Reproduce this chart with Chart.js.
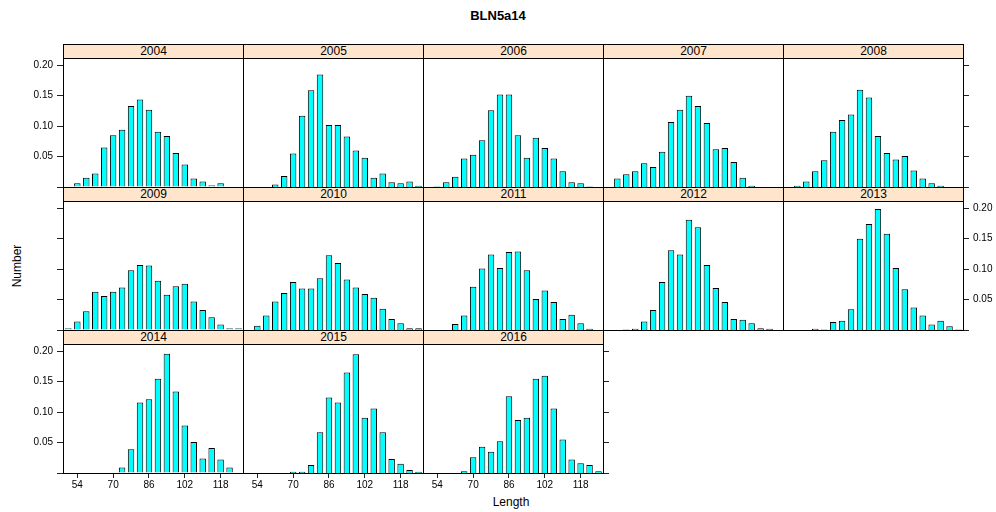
<!DOCTYPE html>
<html><head><meta charset="utf-8">
<script src="https://cdn.jsdelivr.net/npm/chart.js@4"></script>
<style>
html,body{margin:0;padding:0;background:#fff;}
#wrap{position:relative;width:996px;height:512px;overflow:hidden;font-family:'Liberation Sans',Arial,Helvetica,sans-serif;color:#000;}
#wrap canvas{position:absolute;}
.strip{position:absolute;box-sizing:border-box;border:1px solid #000;background:#ffe5cc;font-size:12px;line-height:13px;text-align:center;}
.lbl{position:absolute;white-space:nowrap;}
</style>
</head><body>
<div id="wrap">
  <div class="lbl" id="title" style="left:0;width:996px;top:8px;text-align:center;font-weight:bold;font-size:13px;">BLN5a14</div>
  <div class="lbl" id="ylab" style="left:17px;top:266px;font-size:12px;transform:translate(-50%,-50%) rotate(-90deg);">Number</div>
  <div class="lbl" id="xlab" style="left:511px;top:502px;font-size:12px;transform:translate(-50%,-50%);">Length</div>
</div>
<script>
// ---- data ----
const lengths = [50,54,58,62,66,70,74,78,82,86,90,94,98,102,106,110,114,118,122,126];
const years = ['2004','2005','2006','2007','2008','2009','2010','2011','2012','2013','2014','2015','2016'];
const v2004 = [0.001,0.006,0.015,0.022,0.065,0.085,0.094,0.133,0.144,0.127,0.091,0.084,0.056,0.037,0.014,0.009,0.003,0.006,0,0];
const v2005 = [0,0,0,0.004,0.018,0.055,0.117,0.159,0.185,0.102,0.102,0.083,0.060,0.048,0.015,0.022,0.008,0.006,0.009,0.002];
const v2006 = [0,0.001,0.008,0.017,0.047,0.053,0.077,0.126,0.152,0.152,0.085,0.048,0.081,0.064,0.047,0.026,0.008,0.006,0.001,0];
const v2007 = [0,0.014,0.021,0.026,0.039,0.033,0.058,0.107,0.127,0.150,0.133,0.105,0.062,0.064,0.041,0.015,0.002,0,0,0];
const v2008 = [0,0.002,0.009,0.026,0.044,0.091,0.110,0.119,0.160,0.147,0.084,0.056,0.045,0.051,0.027,0.014,0.006,0.002,0,0];
const v2009 = [0.003,0.014,0.031,0.063,0.056,0.063,0.070,0.098,0.107,0.106,0.081,0.058,0.072,0.076,0.047,0.033,0.021,0.009,0.003,0.003];
const v2010 = [0,0.007,0.024,0.047,0.061,0.079,0.068,0.068,0.085,0.123,0.110,0.083,0.070,0.059,0.053,0.035,0.018,0.011,0.003,0.003];
const v2011 = [0,0,0,0.010,0.024,0.071,0.101,0.124,0.102,0.128,0.129,0.098,0.051,0.065,0.046,0.018,0.025,0.011,0.002,0];
const v2012 = [0,0,0.001,0.002,0.014,0.033,0.079,0.131,0.124,0.181,0.169,0.107,0.069,0.046,0.018,0.017,0.011,0.003,0.002,0];
const v2013 = [0,0,0,0.002,0.001,0.013,0.015,0.034,0.150,0.174,0.199,0.158,0.102,0.067,0.037,0.024,0.009,0.015,0.006,0.001];
const v2014 = [0,0,0,0,0,0,0.009,0.039,0.116,0.121,0.155,0.196,0.134,0.078,0.051,0.024,0.041,0.022,0.009,0];
const v2015 = [0,0,0,0,0,0.002,0.002,0.013,0.067,0.124,0.116,0.165,0.195,0.091,0.106,0.067,0.023,0.015,0.005,0.002];
const v2016 = [0,0,0,0,0.003,0.026,0.043,0.035,0.052,0.126,0.087,0.091,0.155,0.160,0.106,0.055,0.022,0.016,0.013,0.003];
const xTicks = [54,70,86,102,118];
const yTicks = [0,0.05,0.10,0.15,0.20];

const series = [v2004,v2005,v2006,v2007,v2008,v2009,v2010,v2011,v2012,v2013,v2014,v2015,v2016];

// ---- layout ----
const wrap = document.getElementById('wrap');
const PW = 180, STRIP = 14, PLOT = 129, PITCH = 143;
const MAR = 45, TOPM = 14, XAX = 30;
const FONT = "'Liberation Sans', Arial, Helvetica, sans-serif";

const framePlugin = {
  id: 'frame',
  afterDraw(chart) {
    const a = chart.chartArea, ctx = chart.ctx;
    ctx.save();
    ctx.strokeStyle = '#000';
    ctx.lineWidth = 1;
    ctx.strokeRect(Math.round(a.left) + 0.5, Math.round(a.top) + 0.5,
                   Math.round(a.right - a.left), Math.round(a.bottom - a.top));
    ctx.restore();
  }
};

function yScale(pos, showTicks, showLabels) {
  return {
    type: 'linear', position: pos, min: 0, max: 0.212, offset: false,
    afterBuildTicks: s => { s.ticks = yTicks.map(v => ({value: v})); },
    afterFit: s => { s.width = MAR; },
    border: {display: false},
    grid: {display: showTicks, drawOnChartArea: false, drawTicks: true, tickLength: 6, color: '#222', offset: false},
    ticks: {display: showLabels, padding: 4, color: '#000', font: {family: FONT, size: 10},
            callback: v => v === 0 ? '' : Number(v).toFixed(2)}
  };
}

years.forEach((yr, i) => {
  const r = Math.floor(i / 5), c = i % 5;
  const L = 63 + PW * c, T = 44 + PITCH * r;

  const strip = document.createElement('div');
  strip.className = 'strip';
  strip.style.left = L + 'px';
  strip.style.top = T + 'px';
  strip.style.width = (PW + 1) + 'px';
  strip.style.height = (STRIP + 1) + 'px';
  strip.textContent = yr;
  wrap.appendChild(strip);

  const cv = document.createElement('canvas');
  cv.width = PW + 2 * MAR;
  cv.height = TOPM + PLOT + XAX;
  cv.style.left = (L - MAR) + 'px';
  cv.style.top = (T + STRIP - TOPM) + 'px';
  wrap.appendChild(cv);

  const leftTicks = c === 0, leftLabels = c === 0 && r !== 1;
  const rightTicks = c === 4 || (r === 2 && c === 2), rightLabels = r === 1 && c === 4;
  const bottom = r === 2;

  new Chart(cv, {
    type: 'bar',
    data: {
      datasets: [{
        data: lengths.map((x, k) => ({x: x, y: series[i][k]})),
        backgroundColor: '#00ffff',
        borderColor: '#000',
        borderWidth: 1,
        borderSkipped: 'start',
        barPercentage: 0.72,
        categoryPercentage: 1.0,
        xAxisID: 'x', yAxisID: 'y'
      }]
    },
    options: {
      responsive: false, animation: false, devicePixelRatio: 1,
      layout: {padding: {top: TOPM, left: 0, right: 0, bottom: 0}},
      plugins: {legend: {display: false}, tooltip: {enabled: false}, title: {display: false}},
      scales: {
        x: {
          type: 'linear', position: 'bottom', min: 47.6, max: 128, offset: false,
          afterBuildTicks: s => { s.ticks = xTicks.map(v => ({value: v})); },
          afterFit: s => { s.height = XAX; },
          border: {display: false},
          grid: {display: bottom, drawOnChartArea: false, drawTicks: true, tickLength: 5, color: '#222', offset: false},
          ticks: {display: bottom, padding: 1, color: '#000', maxRotation: 0, autoSkip: false,
                  font: {family: FONT, size: 10}, callback: v => String(v)}
        },
        y: yScale('left', leftTicks, leftLabels),
        yR: yScale('right', rightTicks, rightLabels)
      }
    },
    plugins: [framePlugin]
  });
});
</script>
</body></html>
